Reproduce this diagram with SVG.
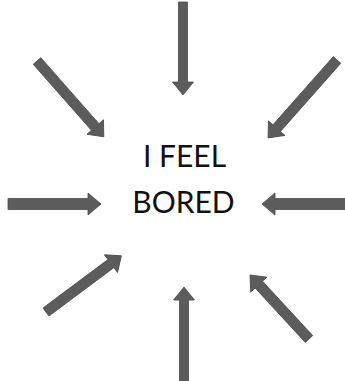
<svg xmlns="http://www.w3.org/2000/svg" width="345" height="381" viewBox="0 0 345 381">
<style>
.arr{fill:#5c5c5c;stroke:#4a4a4a;stroke-width:0.8;stroke-linejoin:miter}
.t{font-family:Lato,"Open Sans","Liberation Sans",sans-serif;font-size:30px;fill:#111;text-anchor:middle}
</style>
<rect width="345" height="381" fill="#fff"/>
<g id="label">
<text class="t" x="184.5" y="167">I FEEL</text>
<text class="t" x="183.5" y="213">BORED</text>
</g>
<g id="connectors">
<path class="arr" transform="translate(183,2) rotate(90)" d="M0,-4.5 H80 V-10.5 L93,0 L80,10.5 V4.5 H0 Z"/>
<path class="arr" transform="translate(184,382) rotate(-90)" d="M0,-4.5 H82 V-10.5 L95,0 L82,10.5 V4.5 H0 Z"/>
<path class="arr" transform="translate(8,204) rotate(0)" d="M0,-5.5 H80 V-11 L93,0 L80,11 V5.5 H0 Z"/>
<path class="arr" transform="translate(346,204) rotate(180)" d="M0,-5.5 H71 V-11 L84,0 L71,11 V5.5 H0 Z"/>
<path class="arr" transform="translate(37,61) rotate(48.6)" d="M0,-5 H88 V-11 L101,0 L88,11 V5 H0 Z"/>
<path class="arr" transform="translate(337,60) rotate(131.5)" d="M0,-5 H91 V-11 L104,0 L91,11 V5 H0 Z"/>
<path class="arr" transform="translate(46,312) rotate(-36.7)" d="M0,-5 H81 V-11 L94,0 L81,11 V5 H0 Z"/>
<path class="arr" transform="translate(309,339) rotate(-132.7)" d="M0,-5 H74 V-11 L87,0 L74,11 V5 H0 Z"/>
</g>
</svg>
